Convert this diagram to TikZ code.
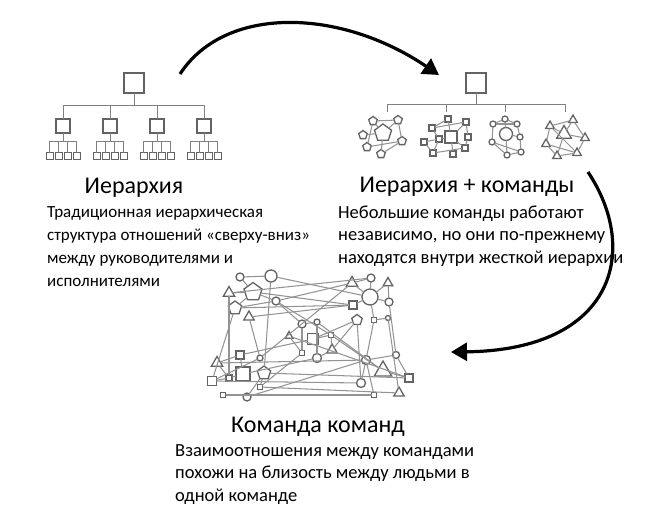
\documentclass[tikz,border=0pt]{standalone}
\usepackage{fontspec}
\setmainfont{Carlito}
\usetikzlibrary{shapes.geometric,arrows.meta,positioning}

\definecolor{shapegray}{HTML}{636363}
\definecolor{wiregray}{HTML}{939393}

\tikzset{
  nd/.style={draw=shapegray, fill=white, line width=1.3pt, inner sep=0pt, outer sep=0pt},
  sq/.style={nd, rectangle, minimum size=#1},
  ci/.style={nd, circle, minimum size=#1},
  pe/.style={nd, regular polygon, regular polygon sides=5, minimum size=#1},
  tr/.style={nd, regular polygon, regular polygon sides=3, minimum size=#1},
  wire/.style={draw=wiregray, line width=1.05pt},
  tree/.style={draw=gray, line width=1pt},
  flowarrow/.style={line width=3.2pt, -{Triangle[length=16pt,width=18pt]}},
  title/.style={font=\fontsize{24}{28}\selectfont, inner sep=0pt, anchor=base},
  body/.style={font=\fontsize{18.5}{22.5}\selectfont, align=left, inner sep=0pt, anchor=base west}
}

\begin{document}
\begin{tikzpicture}[x=1pt, y=-1pt]
    \useasboundingbox (0,0) rectangle (663,525);

    % hierarchy
    \node[sq=20] (h0) at (134,83) {};
    \foreach \i/\x in {1/63,2/110,3/157,4/204} {
        \node[sq=14] (h\i) at (\x,126) {};
        \draw[tree] (h0.south) -- ++(0,12) -| (h\i.north);
        \foreach \j/\d in {1/-13.5,2/-4.5,3/4.5,4/13.5} {
            \node[sq=7, line width=0.9pt] (h\i\j) at (\x+\d,156) {};
            \draw[tree] (h\i.south) -- ++(0,8) -| (h\i\j.north);
        }
    }

    % hierarchy + teams
    \node[sq=20] (t0) at (476,83) {};
    \coordinate (k1) at (387,112);
    \coordinate (k2) at (446,112);
    \coordinate (k3) at (505,112);
    \coordinate (k4) at (565,112);
    \foreach \i in {1,...,4}
        \draw[tree] (t0.south) -- ++(0,11) -| (k\i);

    \node[pe=18] (p0) at (383,133) {};
    \foreach \n/\x/\y in {1/373/121,2/398/120,3/363/135,4/367/147,5/381/154,6/402/141}
        \node[pe=9] (p\n) at (\x,\y) {};
    \foreach \a/\b in {1/2,1/4,2/6,3/0,1/0,4/6,5/6,0/5,2/0}
        \draw[wire] (p\a) -- (p\b);

    \node[sq=12] (q0) at (451,137) {};
    \foreach \n/\x/\y in {1/448/119,2/466/122,3/432/128,4/439/139,5/424/142,6/468/137,7/465/148,8/433/153,9/453/154}
        \node[sq=6] (q\n) at (\x,\y) {};
    \foreach \a/\b in {1/0,2/0,3/1,3/4,5/4,4/0,2/6,6/7,7/0,8/4,8/7,9/0,3/2,5/8}
        \draw[wire] (q\a) -- (q\b);

    \node[ci=13] (c0) at (506,134) {};
    \foreach \n/\x/\y in {1/505/119,2/493/124,3/517/124,4/520/137,5/492/142,6/521/152,7/507/155}
        \node[ci=6] (c\n) at (\x,\y) {};
    \foreach \a/\b in {1/0,2/3,2/5,3/4,4/6,5/6,5/7,7/0,0/4,1/2,7/6,1/3}
        \draw[wire] (c\a) -- (c\b);

    \node[tr=17] (r0) at (564,134) {};
    \foreach \n/\x/\y in {1/550/126,2/573/120,3/585/138,4/546/144,5/557/156,6/577/153}
        \node[tr=10] (r\n) at (\x,\y) {};
    \foreach \a/\b in {1/2,1/4,1/0,2/0,2/3,3/0,4/5,4/6,5/6,0/5,1/6,3/6}
        \draw[wire] (r\a) -- (r\b);

    % team of teams
    \foreach \n/\s/\d/\x/\y in {
        1/ci/8/240/277, 2/ci/12/271/276, 3/tr/13/229/293, 4/pe/19/253/292,
        5/ci/8/276/301, 6/pe/14/235/308, 7/tr/12/249/317, 8/ci/8/302/324,
        9/ci/6/317/322, 10/tr/9/289/336, 11/sq/11/313/339, 12/sq/5/331/335,
        13/tr/12/332/350, 14/sq/5/302/353, 15/ci/9/317/358, 16/ci/6/260/358,
        17/sq/8/240/355, 18/tr/13/217/363, 19/sq/6/229/378, 20/sq/14/243/374,
        21/pe/14/264/373, 22/sq/9/212/381, 23/sq/5/223/395, 24/ci/8/247/397,
        25/sq/5/260/387, 26/tr/13/352/283, 27/ci/8/371/278, 28/tr/11/388/283,
        29/ci/16/370/297, 30/sq/8/353/305, 31/ci/8/389/302, 32/pe/11/357/320,
        33/sq/5/374/320, 34/ci/5/388/318, 35/ci/9/366/360, 36/ci/7/396/355,
        37/tr/20/383/371, 38/sq/8/409/378, 39/ci/9/361/383, 40/sq/5/374/395,
        41/tr/12/399/393}
        \node[\s=\d] (n\n) at (\x,\y) {};
    \foreach \a/\b in {1/2,1/4,3/4,4/5,4/6,5/6,3/19,6/22,2/21,2/29,5/26,5/8,
        5/12,7/30,7/16,8/14,8/9,9/15,9/37,10/14,11/32,11/17,11/12,12/13,
        13/15,13/32,16/26,16/22,17/20,17/18,18/19,19/20,20/15,21/38,21/24,
        21/25,22/19,23/40,24/35,25/14,26/27,26/29,27/29,28/29,29/31,29/30,
        32/39,33/34,33/29,33/35,34/41,35/36,35/39,35/40,37/38,36/38,31/36,
        28/31,6/30,3/27,18/35,22/39,25/41,10/38,12/37,4/30}
        \draw[wire] (n\a) -- (n\b);

    % arrows
    \coordinate (a1s) at (180,74);
    \coordinate (a1e) at (439,75);
    \draw[flowarrow] (a1s) .. controls (225,5) and (340,8) .. (a1e);
    \coordinate (a2s) at (588,172);
    \coordinate (a2e) at (451,352);
    \draw[flowarrow] (a2s) .. controls (640,250) and (615,350) .. (a2e);

    % texts (base = last line)
    \node[title] (ttl1) at (134,193) {Иерархия};
    \node[title] (ttl2) at (467,192) {Иерархия + команды};
    \node[title] (ttl3) at (318,432) {Команда команд};
    \node[body, font=\fontsize{17}{22.8}\selectfont] (txt1) at (47,286) {Традиционная иерархическая\\структура отношений «сверху-вниз»\\между руководителями и\\исполнителями};
    \node[body] (txt2) at (338,263) {Небольшие команды работают\\независимо, но они по-прежнему\\находятся внутри жесткой иерархии};
    \node[body] (txt3) at (175,501) {Взаимоотношения между командами\\похожи на близость между людьми в\\одной команде};
\end{tikzpicture}
\end{document}
